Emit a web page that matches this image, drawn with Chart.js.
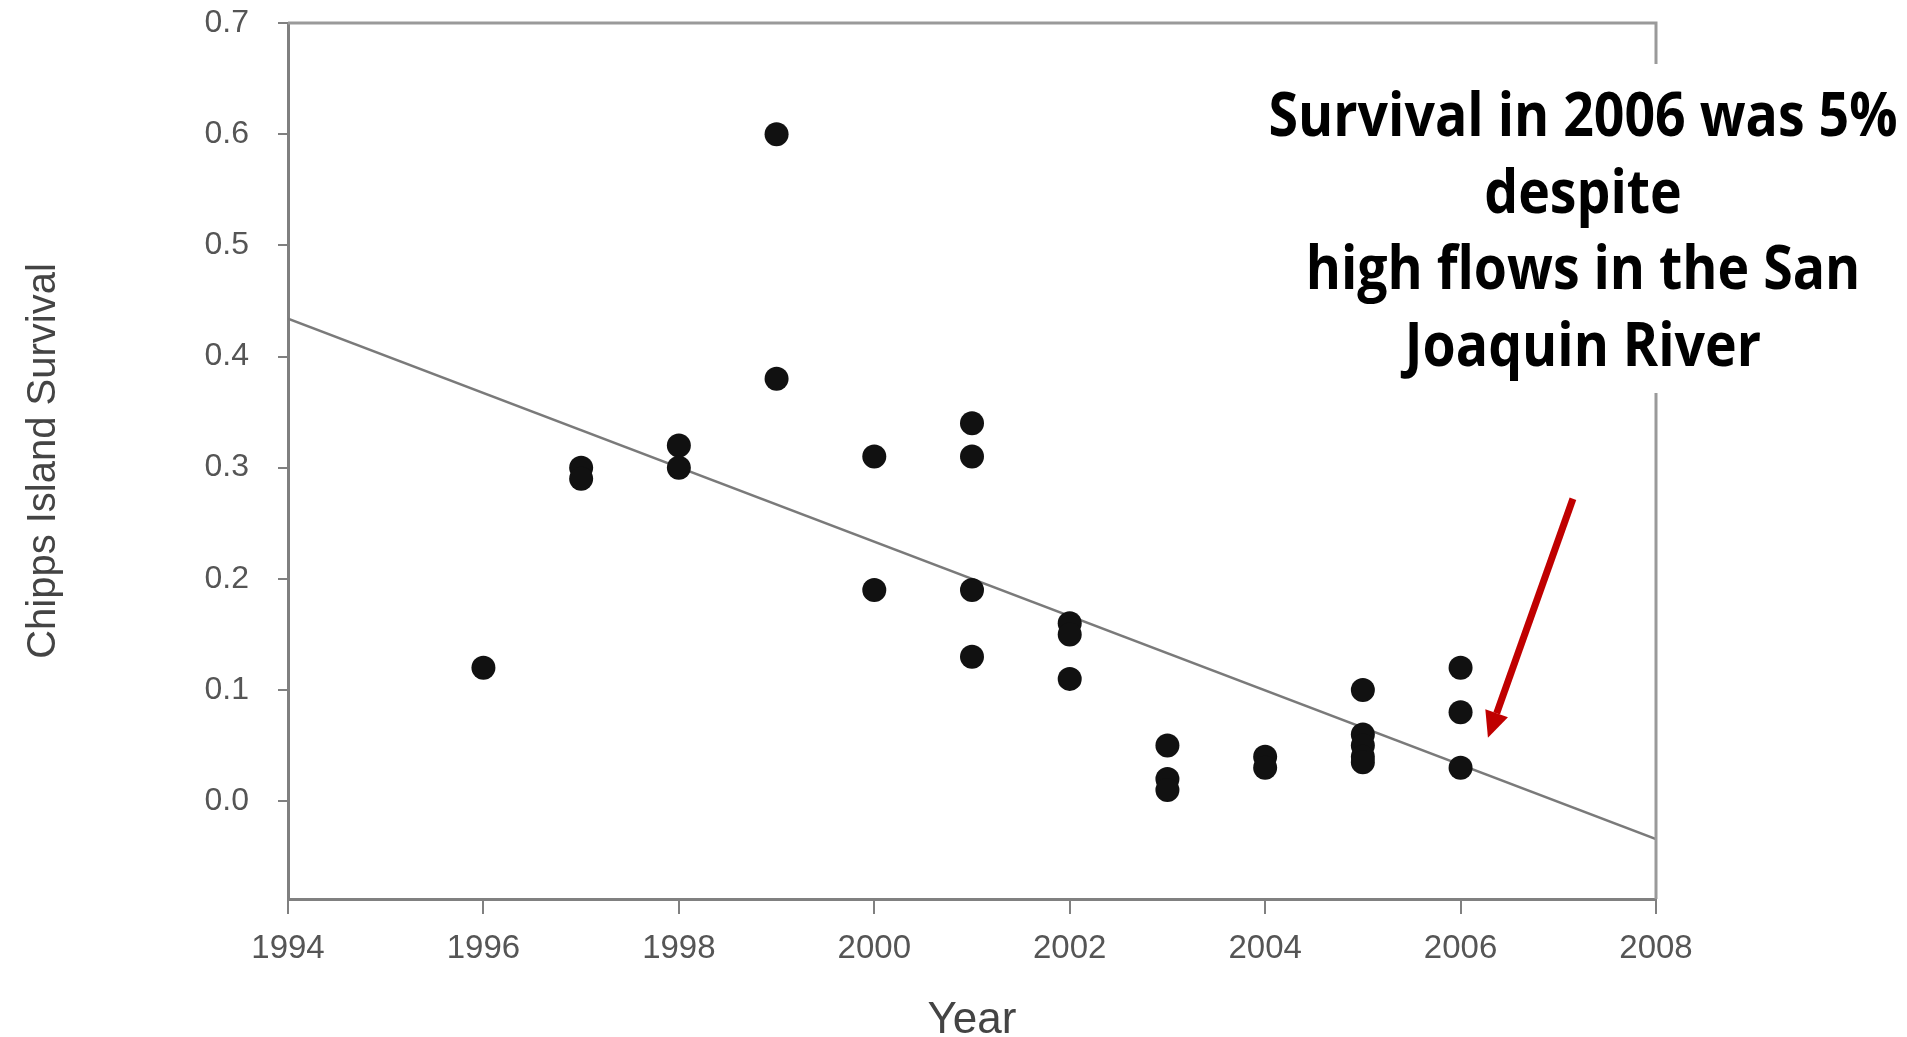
<!DOCTYPE html>
<html>
<head>
<meta charset="utf-8">
<script src="https://cdn.jsdelivr.net/npm/chart.js@4.4.0/dist/chart.umd.min.js"></script>
<style>
    html, body { margin: 0; padding: 0; background: #fff; }
    canvas { display: block; }
</style>
</head>
<body>
<canvas id="survivalChart" width="1907" height="1037"></canvas>
<script>
// release years and Chipps Island survival
const years = [1996, 1997, 1997, 1998, 1998, 1999, 1999, 2000, 2000,
    2001, 2001, 2001, 2001, 2002, 2002, 2002, 2003, 2003, 2003,
    2004, 2004, 2005, 2005, 2005, 2005, 2005, 2006, 2006, 2006];
const survival = [0.12, 0.30, 0.29, 0.32, 0.30, 0.60, 0.38, 0.31, 0.19,
    0.34, 0.31, 0.19, 0.13, 0.16, 0.15, 0.11, 0.05, 0.02, 0.01,
    0.04, 0.03, 0.10, 0.06, 0.05, 0.04, 0.035, 0.12, 0.08, 0.03];

// regression line end points
const trendYears = [1994, 2008];
const trendValues = [0.434, -0.034];

const xTicks = [1994, 1996, 1998, 2000, 2002, 2004, 2006, 2008];
const yTicks = [0.0, 0.1, 0.2, 0.3, 0.4, 0.5, 0.6, 0.7];

const noteLines = ['Survival in 2006 was 5%', 'despite', 'high flows in the San', 'Joaquin River'];
const arrowFrom = { x: 2007.15, y: 0.272 };
const arrowTo = { x: 2006.28, y: 0.057 };

const axisColor = '#808080';
const labelColor = '#555555';

const framePlugin = {
    id: 'frameAndNote',
    afterDraw(chart) {
        const ctx = chart.ctx;
        const area = chart.chartArea;
        const xs = chart.scales.x;
        const ys = chart.scales.y;

        // top and right border of the plot box
        ctx.save();
        ctx.strokeStyle = '#9a9a9a';
        ctx.lineWidth = 3;
        ctx.beginPath();
        ctx.moveTo(area.left, area.top);
        ctx.lineTo(area.right, area.top);
        ctx.lineTo(area.right, area.bottom);
        ctx.stroke();

        // white box behind the note
        ctx.fillStyle = '#ffffff';
        ctx.fillRect(1262, 64, 645, 329);

        // the note itself, squeezed to the width of the original
        ctx.fillStyle = '#000000';
        ctx.font = 'bold 60px "Open Sans"';
        ctx.textAlign = 'center';
        ctx.textBaseline = 'alphabetic';
        const sx = 629 / ctx.measureText(noteLines[0]).width;
        ctx.translate(1583, 0);
        ctx.scale(sx, 1);
        noteLines.forEach((line, i) => ctx.fillText(line, 0, 136 + i * 76.5));
        ctx.restore();

        // red arrow
        const x0 = xs.getPixelForValue(arrowFrom.x), y0 = ys.getPixelForValue(arrowFrom.y);
        const x1 = xs.getPixelForValue(arrowTo.x), y1 = ys.getPixelForValue(arrowTo.y);
        const ang = Math.atan2(y1 - y0, x1 - x0);
        const headLen = 26, headHalf = 12;
        const bx = x1 - headLen * Math.cos(ang), by = y1 - headLen * Math.sin(ang);
        ctx.save();
        ctx.strokeStyle = '#c00000';
        ctx.fillStyle = '#c00000';
        ctx.lineWidth = 7;
        ctx.beginPath();
        ctx.moveTo(x0, y0);
        ctx.lineTo(bx, by);
        ctx.stroke();
        ctx.beginPath();
        ctx.moveTo(x1, y1);
        ctx.lineTo(bx + headHalf * Math.sin(ang), by - headHalf * Math.cos(ang));
        ctx.lineTo(bx - headHalf * Math.sin(ang), by + headHalf * Math.cos(ang));
        ctx.closePath();
        ctx.fill();
        ctx.restore();
    }
};

const ctx = document.getElementById('survivalChart').getContext('2d');

new Chart(ctx, {
    type: 'scatter',
    data: {
        datasets: [{
            label: 'Survival',
            data: years.map((y, i) => ({ x: y, y: survival[i] })),
            backgroundColor: '#111111',
            borderWidth: 0,
            pointRadius: 12,
            pointHoverRadius: 12
        }, {
            type: 'line',
            label: 'Trend',
            data: trendYears.map((y, i) => ({ x: y, y: trendValues[i] })),
            borderColor: '#7a7a7a',
            borderWidth: 2.5,
            pointRadius: 0,
            fill: false
        }]
    },
    options: {
        responsive: false,
        animation: false,
        layout: {
            autoPadding: false,
            padding: { top: 23, right: 251, bottom: 0, left: 0 }
        },
        plugins: {
            legend: { display: false },
            tooltip: { enabled: false }
        },
        scales: {
            x: {
                type: 'linear',
                min: 1994,
                max: 2008,
                afterFit: scale => {
                    scale.height = 138;
                    scale.paddingLeft = 0;
                    scale.paddingRight = 0;
                },
                afterBuildTicks: scale => { scale.ticks = xTicks.map(v => ({ value: v })); },
                border: { color: axisColor, width: 3 },
                grid: {
                    drawOnChartArea: false,
                    tickLength: 15,
                    color: axisColor,
                    lineWidth: 2
                },
                ticks: {
                    color: labelColor,
                    padding: 15,
                    maxRotation: 0,
                    font: { family: '"Liberation Sans", Arial', size: 33 },
                    callback: v => String(v)
                },
                title: {
                    display: true,
                    text: 'Year',
                    color: '#444444',
                    padding: { top: 0, bottom: 0 },
                    font: { family: '"Liberation Sans", Arial', size: 44, lineHeight: 0.75 }
                }
            },
            y: {
                type: 'linear',
                min: -0.088,
                max: 0.7,
                afterFit: scale => {
                    scale.width = 288;
                    scale.paddingTop = 0;
                    scale.paddingBottom = 0;
                },
                afterBuildTicks: scale => { scale.ticks = yTicks.map(v => ({ value: v })); },
                border: { color: axisColor, width: 3 },
                grid: {
                    drawOnChartArea: false,
                    tickLength: 10,
                    color: axisColor,
                    lineWidth: 2
                },
                ticks: {
                    color: labelColor,
                    padding: 29,
                    font: { family: '"Liberation Sans", Arial', size: 32 },
                    callback: v => Number(v).toFixed(1)
                },
                title: {
                    display: true,
                    text: 'Chipps Island Survival',
                    color: '#444444',
                    padding: { top: 20, bottom: 0 },
                    font: { family: '"Liberation Sans", Arial', size: 40 }
                }
            }
        }
    },
    plugins: [framePlugin]
});
</script>
</body>
</html>
